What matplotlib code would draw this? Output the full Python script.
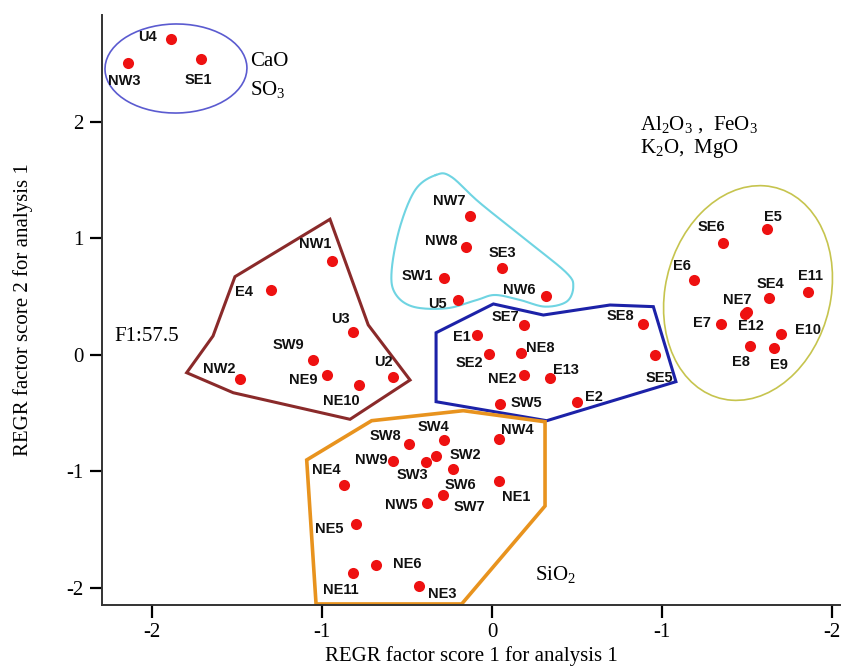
import numpy as np
import matplotlib
matplotlib.use("Agg")
from matplotlib import pyplot as plt
from matplotlib.patches import Ellipse, Polygon

plt.rcParams['font.family'] = 'Liberation Serif'
plt.rcParams['mathtext.fontset'] = 'custom'
plt.rcParams['mathtext.rm'] = 'Liberation Serif'

# factor scores of the sampling sites (score 1, score 2)
caoNames = ['U4', 'NW3', 'SE1']
caoX = [-1.89, -2.14, -1.71]
caoY = [2.71, 2.51, 2.54]

cyanNames = ['NW7', 'NW8', 'SE3', 'SW1', 'U5', 'NW6']
cyanX = [-0.13, -0.15, 0.06, -0.28, -0.20, 0.32]
cyanY = [1.19, 0.93, 0.75, 0.66, 0.47, 0.51]

f1Names = ['NW1', 'E4', 'U3', 'SW9', 'NW2', 'NE9', 'NE10', 'U2']
f1X = [-0.94, -1.30, -0.82, -1.05, -1.48, -0.97, -0.78, -0.58]
f1Y = [0.81, 0.56, 0.20, -0.04, -0.21, -0.17, -0.26, -0.19]

midNames = ['SE7', 'E1', 'SE2', 'NE8', 'NE2', 'E13', 'SW5', 'E2', 'SE8', 'SE5']
midX = [0.19, -0.09, -0.02, 0.17, 0.19, 0.34, 0.05, 0.50, 0.89, 0.96]
midY = [0.26, 0.17, 0.01, 0.02, -0.17, -0.20, -0.42, -0.40, 0.27, 0.00]

sioNames = ['SW8', 'SW4', 'NW4', 'NW9', 'SW2', 'SW3', 'SW6', 'NE4', 'NE1',
            'SW7', 'NW5', 'NE5', 'NE6', 'NE11', 'NE3']
sioX = [-0.49, -0.28, 0.04, -0.58, -0.33, -0.39, -0.23, -0.87, 0.04,
        -0.29, -0.38, -0.80, -0.68, -0.82, -0.43]
sioY = [-0.76, -0.73, -0.72, -0.91, -0.87, -0.92, -0.98, -1.12, -1.08,
        -1.20, -1.27, -1.45, -1.80, -1.87, -1.98]

alNames = ['E5', 'SE6', 'E6', 'E11', 'SE4', 'NE7', 'E12', 'E7', 'E10', 'E8', 'E9']
alX = [1.62, 1.36, 1.19, 1.86, 1.63, 1.50, 1.49, 1.35, 1.70, 1.52, 1.66]
alY = [1.08, 0.96, 0.64, 0.54, 0.49, 0.37, 0.35, 0.27, 0.18, 0.08, 0.06]

xTicks = [-2, -1, 0, 1, 2]
xTickLabels = ['-2', '-1', '0', '-1', '-2']
yTicks = [-2, -1, 0, 1, 2]
yTickLabels = ['-2', '-1', '0', '1', '2']

# label offsets (pixels, label centre relative to the dot)
labelOffset = {
    'U4': (-23, 2), 'NW3': (-4, -18), 'SE1': (-3, -21),
    'NW7': (-21, 15), 'NW8': (-25, 6), 'SE3': (0, 15), 'SW1': (-27, 2),
    'U5': (-21, -4), 'NW6': (-27, 6),
    'NW1': (-17, 17), 'E4': (-27, -2), 'U3': (-12, 13), 'SW9': (-25, 15),
    'NW2': (-21, 10), 'NE9': (-24, -5), 'NE10': (-18, -16), 'U2': (-10, 15),
    'SE7': (-19, 8), 'E1': (-15, -2), 'SE2': (-19, -9), 'NE8': (19, 5),
    'NE2': (-22, -4), 'E13': (16, 8), 'SW5': (26, 1), 'E2': (17, 5),
    'SE8': (-23, 8), 'SE5': (4, -23),
    'SW8': (-23, 8), 'SW4': (-11, 13), 'NW4': (19, 9), 'NW9': (-22, 1),
    'SW2': (30, 1), 'SW3': (-13, -13), 'SW6': (8, -16), 'NE4': (-18, 15),
    'NE1': (17, -16), 'SW7': (27, -12), 'NW5': (-26, -2), 'NE5': (-27, -5),
    'NE6': (31, 1), 'NE11': (-12, -17), 'NE3': (23, -8),
    'E5': (6, 12), 'SE6': (-12, 16), 'E6': (-12, 14), 'E11': (2, 16),
    'SE4': (1, 14), 'NE7': (-10, 12), 'E12': (6, -12), 'E7': (-20, 1),
    'E10': (27, 4), 'E8': (-9, -16), 'E9': (5, -17),
}

# hand drawn group outlines
f1Outline = [(-0.953, 1.165), (-1.512, 0.672), (-1.641, 0.163), (-1.796, -0.152),
             (-1.522, -0.324), (-0.835, -0.552), (-0.482, -0.215), (-0.728, 0.258)]
midOutline = [(-0.329, 0.191), (0.008, 0.438), (0.302, 0.343), (0.694, 0.429),
              (0.949, 0.415), (1.082, -0.229), (0.322, -0.564), (-0.329, -0.401)]
sioOutline = [(-1.09, -0.901), (-0.708, -0.564), (-0.169, -0.478), (0.312, -0.573),
              (0.312, -1.296), (-0.178, -2.137), (-1.035, -2.137)]
cyanOutline = [(-0.33, 1.545), (-0.24, 1.53), (-0.071, 1.305), (0.224, 0.961),
               (0.439, 0.704), (0.478, 0.586), (0.439, 0.458), (0.312, 0.415),
               (0.165, 0.472), (0.018, 0.515), (-0.09, 0.472), (-0.266, 0.401),
               (-0.465, 0.415), (-0.571, 0.532), (-0.59, 0.73), (-0.541, 1.101),
               (-0.45, 1.42)]


def closedSpline(pts, n=20):
    # Catmull-Rom through the points, closed
    p = np.array(pts)
    m = len(p)
    out = []
    for i in range(m):
        p0, p1, p2, p3 = p[i - 1], p[i], p[(i + 1) % m], p[(i + 2) % m]
        for t in np.linspace(0, 1, n, endpoint=False):
            t2, t3 = t * t, t * t * t
            out.append(0.5 * (2 * p1 + (-p0 + p2) * t + (2 * p0 - 5 * p1 + 4 * p2 - p3) * t2
                              + (-p0 + 3 * p1 - 3 * p2 + p3) * t3))
    out.append(out[0])
    return np.array(out)


fig = plt.figure(figsize=(8.41, 6.68), dpi=100)
ax = fig.add_axes([0.1213, 0.0943, 0.8775, 0.8832])

ax.add_patch(Polygon(f1Outline, closed=True, fill=False, edgecolor='#8a2a2a', lw=2.2, zorder=2))
ax.add_patch(Polygon(midOutline, closed=True, fill=False, edgecolor='#1c22a8', lw=2.2, zorder=2))
ax.add_patch(Polygon(sioOutline, closed=True, fill=False, edgecolor='#e8931e', lw=2.6, zorder=2))
cyan = closedSpline(cyanOutline)
ax.plot(cyan[:, 0], cyan[:, 1], color='#6fd4e2', lw=1.5, zorder=2)
ax.add_patch(Ellipse((-1.859, 2.459), 0.835, 0.764, angle=3, fill=False,
                     edgecolor='#5b5bd0', lw=1.2, zorder=2))
ax.add_patch(Ellipse((1.506, 0.532), 0.98, 1.85, angle=-6, fill=False,
                     edgecolor='#c6c44e', lw=1.2, zorder=2))

groups = [(caoNames, caoX, caoY), (cyanNames, cyanX, cyanY), (f1Names, f1X, f1Y),
          (midNames, midX, midY), (sioNames, sioX, sioY), (alNames, alX, alY)]
for names, xs, ys in groups:
    ax.plot(xs, ys, 'o', color='#ee1111', markersize=8, markeredgewidth=0, zorder=4)
    for name, x, y in zip(names, xs, ys):
        ax.annotate(name, (x, y), xytext=labelOffset[name], textcoords='offset pixels',
                    ha='center', va='center', fontsize=10.5, fontweight='bold',
                    family='Liberation Sans', color='#111111', zorder=5)

ax.text(-1.424, 2.515, 'CaO', fontsize=15, va='center', ha='left')
ax.text(-1.424, 2.27, r'SO$_\mathrm{3}$', fontsize=15, va='center', ha='left')
ax.text(0.87, 1.974, r'Al$_\mathrm{2}$O$_\mathrm{3}$ ,  FeO$_\mathrm{3}$', fontsize=15, va='center', ha='left')
ax.text(0.87, 1.774, r'K$_\mathrm{2}$O,  MgO', fontsize=15, va='center', ha='left')
ax.text(-2.22, 0.157, 'F1:57.5', fontsize=15, va='center', ha='left')
ax.text(0.253, -1.888, r'SiO$_\mathrm{2}$', fontsize=15, va='center', ha='left')

ax.set_xlim(-2.294, 2.047)
ax.set_ylim(-2.146, 2.918)
ax.set_xticks(xTicks)
ax.set_xticklabels(xTickLabels)
ax.set_yticks(yTicks)
ax.set_yticklabels(yTickLabels)
ax.tick_params(direction='out', length=9, width=1.6, labelsize=15, pad=4)
for side in ['top', 'right']:
    ax.spines[side].set_visible(False)
for side in ['left', 'bottom']:
    ax.spines[side].set_linewidth(1.4)
    ax.spines[side].set_color('#333333')

ax.set_xlabel('REGR factor score 1 for analysis 1', fontsize=15, labelpad=3)
ax.set_ylabel('REGR factor score 2 for analysis 1', fontsize=15, labelpad=24)

fig.savefig('out.png', dpi=100)
